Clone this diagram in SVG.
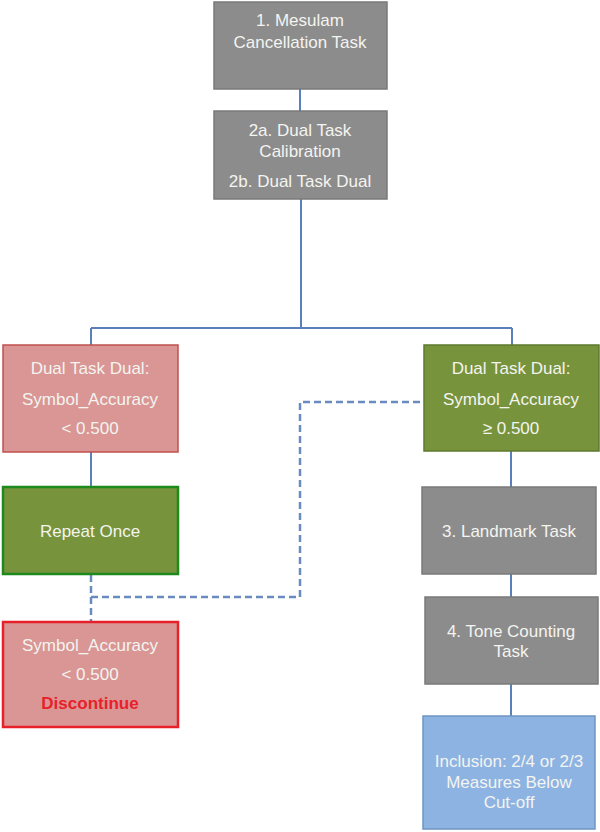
<svg xmlns="http://www.w3.org/2000/svg" width="600" height="832" viewBox="0 0 600 832">
<style>
text{font-family:"Liberation Sans",Arial,sans-serif;font-size:17px;fill:#f4f4f0;text-anchor:middle}
.gray{fill:#8c8c8c;stroke:#7a7a7a;stroke-width:1.5}
.red{fill:#d99694;stroke:#c0504d;stroke-width:1.5}
.green{fill:#77933c;stroke:#5e7a2c;stroke-width:1.5}
.green2{fill:#77933c;stroke:#1e8a1e;stroke-width:2.5}
.red2{fill:#d99694;stroke:#e8202a;stroke-width:2.5}
.blue{fill:#8db3e2;stroke:#6f95c4;stroke-width:1.5}
.conn{fill:none;stroke:#5a7fbb;stroke-width:2}
.dash{fill:none;stroke:#6a8bc0;stroke-width:2.5;stroke-dasharray:7,4}
.disc{fill:#e8202a;font-weight:bold}
</style>
<rect width="600" height="832" fill="#ffffff"/>
<g id="connectors">
<path class="conn" d="M300,89 V111"/>
<path class="conn" d="M301,199 V328 M91,328 H512 M91,328 V345 M512,328 V345"/>
<path class="conn" d="M91,452 V487"/>
<path class="conn" d="M511,451 V487"/>
<path class="conn" d="M511,574 V597"/>
<path class="conn" d="M511,684 V716"/>
<path class="dash" d="M91,575 V597 H300 V402 H423"/>
<path class="dash" d="M91,597 V622"/>
</g>
<g id="n1">
<rect class="gray" x="214" y="2" width="173" height="87"/>
<text x="300" y="26">1. Mesulam</text>
<text x="300" y="48">Cancellation Task</text>
</g>
<g id="n2">
<rect class="gray" x="214" y="111" width="173" height="88"/>
<text x="300" y="136">2a. Dual Task</text>
<text x="300" y="157">Calibration</text>
<text x="300" y="187">2b. Dual Task Dual</text>
</g>
<g id="fail1">
<rect class="red" x="3" y="345" width="175" height="107"/>
<text x="90" y="374">Dual Task Dual:</text>
<text x="90" y="405">Symbol_Accuracy</text>
<text x="90" y="434">&lt; 0.500</text>
</g>
<g id="pass">
<rect class="green" x="424" y="345" width="175" height="106"/>
<text x="511" y="374">Dual Task Dual:</text>
<text x="511" y="405">Symbol_Accuracy</text>
<text x="511" y="434">≥ 0.500</text>
</g>
<g id="repeat">
<rect class="green2" x="3" y="487" width="175" height="87"/>
<text x="90" y="537">Repeat Once</text>
</g>
<g id="landmark">
<rect class="gray" x="422" y="487" width="174" height="87"/>
<text x="509" y="537">3. Landmark Task</text>
</g>
<g id="fail2">
<rect class="red2" x="3" y="622" width="175" height="105"/>
<text x="90" y="651">Symbol_Accuracy</text>
<text x="90" y="680">&lt; 0.500</text>
<text class="disc" x="90" y="709">Discontinue</text>
</g>
<g id="tone">
<rect class="gray" x="425" y="597" width="173" height="87"/>
<text x="511" y="637">4. Tone Counting</text>
<text x="511" y="657">Task</text>
</g>
<g id="inclusion">
<rect class="blue" x="423" y="716" width="172" height="113"/>
<text x="509" y="767">Inclusion: 2/4 or 2/3</text>
<text x="509" y="788">Measures Below</text>
<text x="509" y="808">Cut-off</text>
</g>
</svg>
